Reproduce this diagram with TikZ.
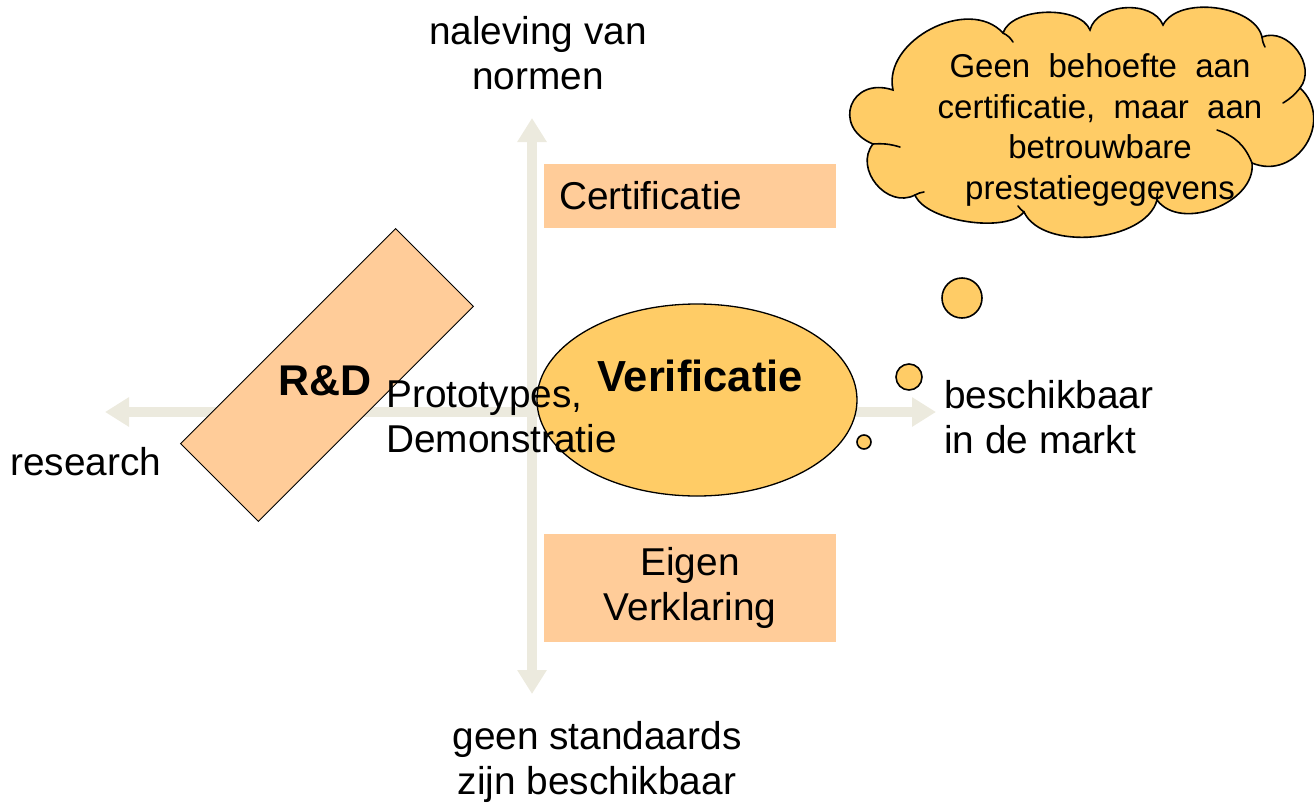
\documentclass[tikz,border=0pt]{standalone}
\usepackage{fontspec}
\setmainfont{Liberation Sans}
\usetikzlibrary{arrows.meta,shapes.geometric}
\definecolor{axisc}{RGB}{236,234,222}
\definecolor{peach}{RGB}{255,204,153}
\definecolor{gold}{RGB}{255,204,102}
\tikzset{
  axisline/.style={draw=axisc, line width=10pt, -{Triangle[width=28pt,length=24pt]}},
  lbl/.style={inner sep=0pt, font=\fontsize{38.8}{45}\selectfont},
  peachbox/.style={fill=peach, inner sep=0pt, minimum width=292pt},
  bubble/.style={circle, fill=gold, draw=black, line width=1.6pt, inner sep=0pt},
  cloudline/.style={draw=black, line width=1.6pt, line cap=round},
}
\begin{document}
\begin{tikzpicture}[x=1pt,y=-1pt]
\useasboundingbox (0,0) rectangle (1314,811);
% axes
\coordinate (O) at (532,412);
\coordinate (L) at (105,412);
\coordinate (R) at (936,412);
\coordinate (T) at (532,118);
\coordinate (B) at (532,694);
\draw[axisline] (O) -- (L);
\draw[axisline] (O) -- (R);
\draw[axisline] (O) -- (T);
\draw[axisline] (O) -- (B);
% boxes
\node[peachbox, minimum height=64pt, text width=262pt, align=left, inner xsep=15pt, lbl, inner ysep=0pt] (cert) at (690,196) {Certificatie};
\node[peachbox, minimum height=108pt, align=center, lbl] (eigen) at (690,588) {Eigen\\Verklaring};
% R&D
\node[fill=peach, draw=black, line width=1pt, minimum width=304pt, minimum height=110pt, rotate=45] (rd) at (327,375) {};
\node[lbl, font=\fontsize{43}{45}\selectfont\bfseries] (rdt) at (325,381) {R\&D};
% ellipse
\node[ellipse, fill=gold, draw=black, line width=1.3pt, minimum width=320pt, minimum height=192pt] (ver) at (697,400) {};
\node[lbl, font=\fontsize{43.5}{45}\selectfont\bfseries] (vert) at (700,376) {Verificatie};
% labels
\node[lbl, align=center] (top) at (538,53) {naleving van\\normen};
\node[lbl, align=center] (bot) at (597,762) {geen standaards\\zijn beschikbaar};
\node[lbl, anchor=west] (res) at (10,462) {research};
\node[lbl, anchor=west, align=left] (mkt) at (944,417) {beschikbaar\\in de markt};
\node[lbl, anchor=west, align=left] (proto) at (386,417) {Prototypes,\\Demonstratie};
% cloud
\coordinate (cA) at (893,90);
\coordinate (cB) at (1003,33);
\coordinate (cB2) at (1090,30);
\coordinate (cC) at (1163,25);
\coordinate (cD) at (1262,37);
\coordinate (cE) at (1300,88);
\coordinate (cF) at (1252,163);
\coordinate (cG) at (1157,200);
\coordinate (cH) at (1024,212);
\coordinate (cI) at (915,195);
\coordinate (cJ) at (873,144);
\path[fill=gold, cloudline]
  (cA) to[bend left=75, looseness=1.05] (cB)
       to[bend left=70, looseness=0.8] (cB2)
       to[bend left=72, looseness=0.97] (cC)
       to[bend left=70, looseness=0.85] (cD)
       to[bend left=75, looseness=1.13] (cE)
       to[bend left=80, looseness=1.38] (cF)
       to[bend left=75, looseness=1.0] (cG)
       to[bend left=70, looseness=0.84] (cH)
       to[bend left=60, looseness=0.65] (cI)
       to[bend left=78, looseness=1.22] (cJ)
       to[bend left=88, looseness=2.0] (cA) -- cycle;
% inner curls
\draw[cloudline] (cB) to[bend left=15] (1013,42);
\draw[cloudline] (cD) to[bend right=10] (1265,47);
\draw[cloudline] (cE) to[bend left=10] (1283,103);
\draw[cloudline] (cF) to[bend right=25] (1217,130);
\draw[cloudline] (cG) to[bend left=10] (1158,191);
\draw[cloudline] (cH) to[bend left=10] (1018,206);
\draw[cloudline] (cI) to[bend left=10] (924,192);
\draw[cloudline] (cJ) to[bend left=10] (900,147);
\node[lbl, align=center, font=\fontsize{33}{40.7}\selectfont] (cloudt) at (1100,130) {Geen\ \ behoefte\ \ aan\\certificatie,\ \ maar\ \ aan\\betrouwbare\\prestatiegegevens};
% bubbles
\node[bubble, minimum size=40pt] (b1) at (962,298) {};
\node[bubble, minimum size=26pt] (b2) at (909,377) {};
\node[bubble, minimum size=14pt] (b3) at (864,442) {};
\end{tikzpicture}
\end{document}
